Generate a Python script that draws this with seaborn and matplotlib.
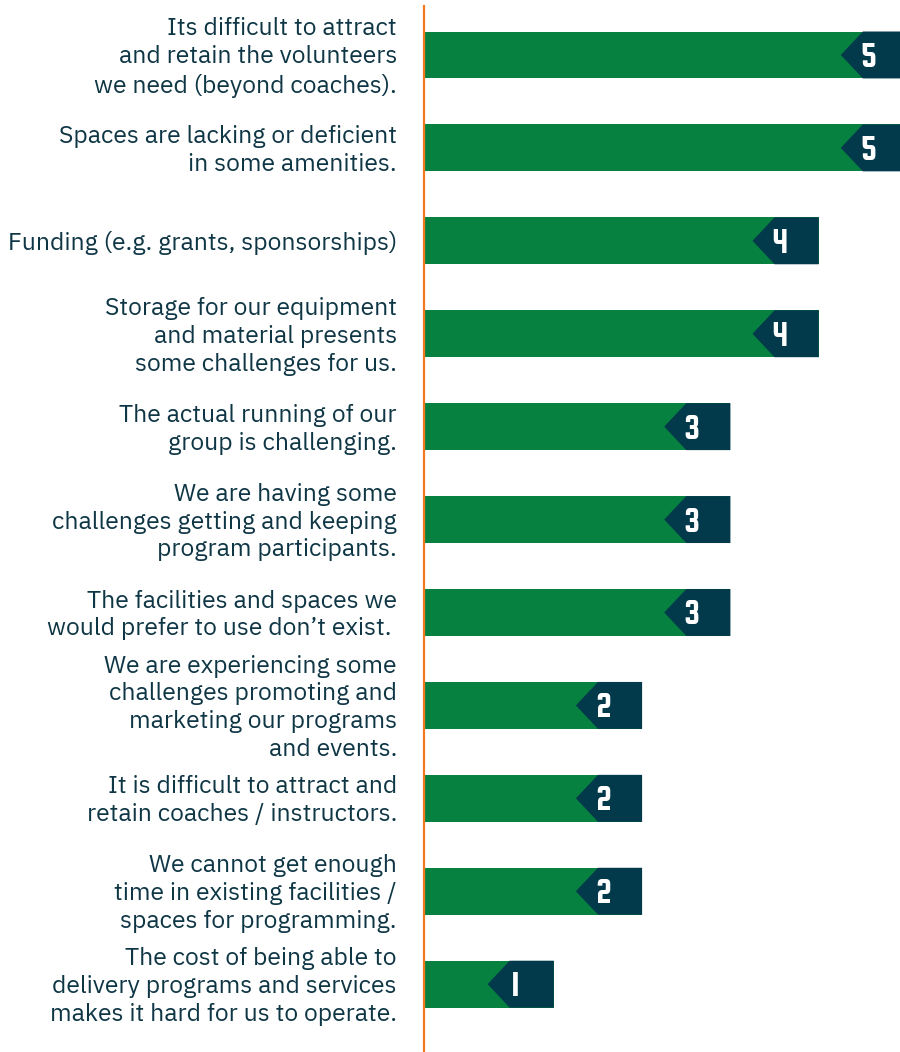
import matplotlib
matplotlib.use("Agg")
import matplotlib.pyplot as plt
from matplotlib.patches import Polygon
from matplotlib.transforms import ScaledTranslation
import seaborn as sns
import numpy as np

# Survey responses: challenges reported by groups (count of responses)
challenges = [
    "Its difficult to attract\nand retain the volunteers\nwe need (beyond coaches).",
    "Spaces are lacking or deficient\nin some amenities.",
    "Funding (e.g. grants, sponsorships)",
    "Storage for our equipment\nand material presents\nsome challenges for us.",
    "The actual running of our\ngroup is challenging.",
    "We are having some\nchallenges getting and keeping\nprogram participants.",
    "The facilities and spaces we\nwould prefer to use don\u2019t exist. ",
    "We are experiencing some\nchallenges promoting and\nmarketing our programs\nand events.",
    "It is difficult to attract and\nretain coaches / instructors.",
    "We cannot get enough\ntime in existing facilities /\nspaces for programming.",
    "The cost of being able to\ndelivery programs and services\nmakes it hard for us to operate.",
]
counts = [5, 5, 4, 4, 3, 3, 3, 2, 2, 2, 1]

GREEN = "#078140"
NAVY = "#023a4b"
ORANGE = "#f47a20"
TEXT = "#0f3645"
LABEL_FONT = ["IBM Plex Sans", "DejaVu Sans"]
VALUE_FONT = ["Squada One", "DejaVu Sans"]

sns.set_theme(style="white")
plt.rcParams["font.family"] = LABEL_FONT

fig = plt.figure(figsize=(9, 10.52), dpi=100)
ax = fig.add_axes([424 / 900, 0, 476 / 900, 1046 / 1052])
renderer = fig.canvas.get_renderer()

# size the category font so the widest single-line label spans 387 px,
# and the line pitch comes out at 28 px
probe = fig.text(0, 0, "Funding (e.g. grants, sponsorships)", fontsize=10)
w10 = probe.get_window_extent(renderer).width
label_size = 10 * 387 / w10
probe.set_fontsize(label_size)
probe.set_linespacing(1.0)
h1 = probe.get_window_extent(renderer).height
probe.set_text("Funding\nFunding")
h2 = probe.get_window_extent(renderer).height
probe.remove()
line_spacing = 28 / (h2 - h1)

idx = np.arange(len(challenges))
sns.barplot(x=counts, y=[str(i) for i in idx], orient="h", color=GREEN,
            width=0.505, saturation=1, ax=ax, edgecolor="none", linewidth=0)

# value axis starts a little below zero so short bars keep room for the tag
base = -0.47
for p, v in zip(ax.patches, counts):
    p.set_x(base)
    p.set_width(v - base)

half = 0.505 / 2
for i, v in enumerate(counts):
    tag = Polygon([(v - 0.75, i), (v - 0.5, i - half), (v, i - half),
                   (v, i + half), (v - 0.5, i + half)],
                  closed=True, facecolor=NAVY, edgecolor="none")
    ax.add_patch(tag)
    ax.text(v - 0.44, i, str(v), color="white", ha="center", va="center_baseline",
            fontsize=25, family=VALUE_FONT)

ax.set_xlim(base, base + 476 / 88.3)
ax.set_ylim(len(challenges) - 1 + 0.73, -0.527)
ax.set_xlabel("")
ax.set_ylabel("")
ax.set_xticks([])
ax.set_yticks(idx)
ax.set_yticklabels(challenges, fontsize=label_size, color=TEXT,
                   linespacing=line_spacing, va="center")
ax.tick_params(axis="y", length=0, pad=19.5)

# nudge the category labels so their text block sits optically centred on the bar
nudge = ScaledTranslation(0, -2.5 / 100, fig.dpi_scale_trans)
for lbl in ax.get_yticklabels():
    lbl.set_transform(lbl.get_transform() + nudge)

for side in ["top", "right", "bottom"]:
    ax.spines[side].set_visible(False)
ax.spines["left"].set_color(ORANGE)
ax.spines["left"].set_linewidth(1.6)

fig.savefig("out.png", dpi=100, facecolor="white")
